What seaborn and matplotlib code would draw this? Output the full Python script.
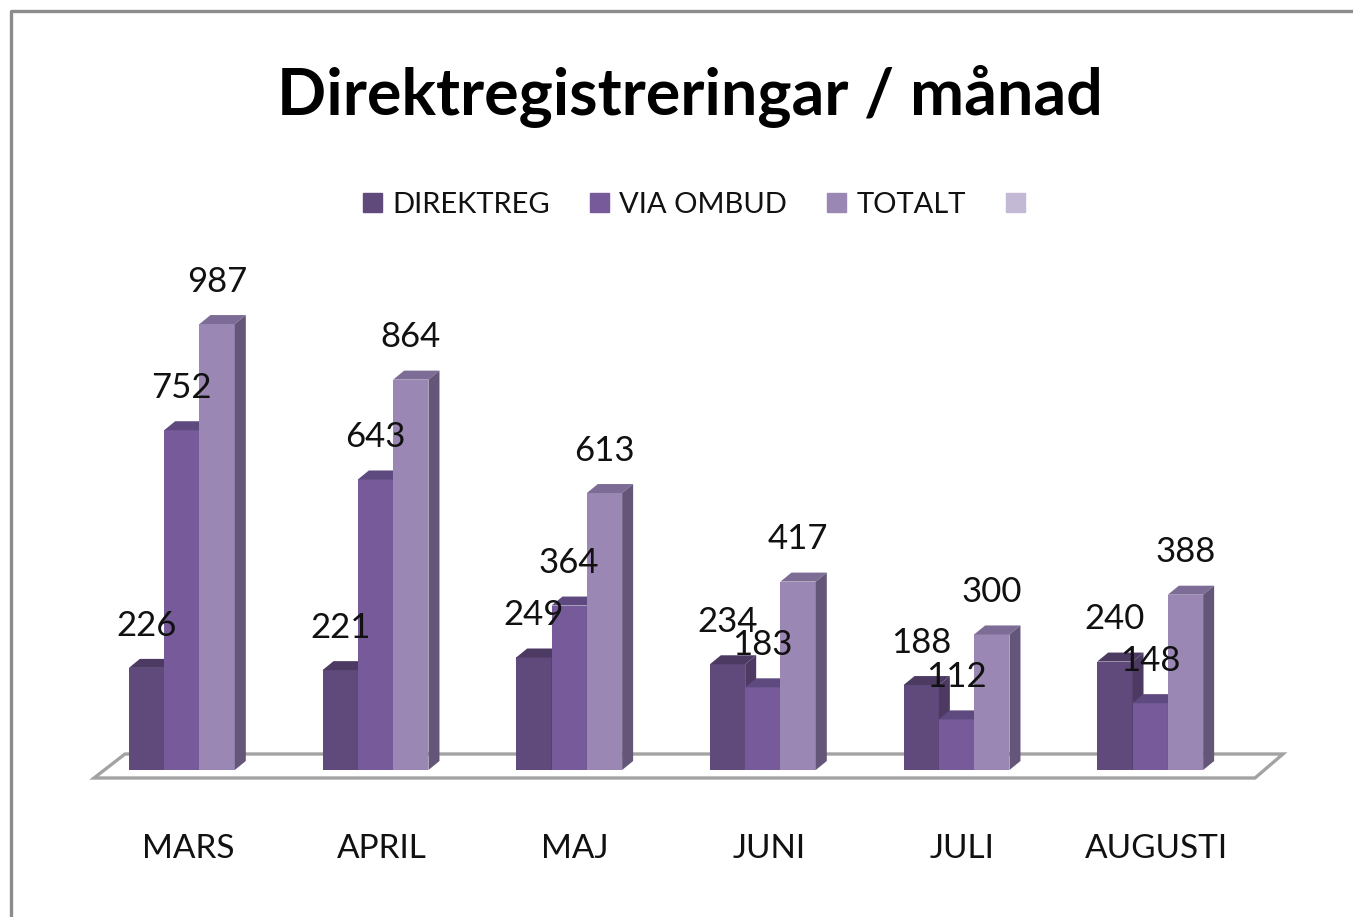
import pandas as pd
import seaborn as sns
import matplotlib.pyplot as plt
from matplotlib.patches import Patch, Polygon
from matplotlib.lines import Line2D
from matplotlib.transforms import ScaledTranslation

months = ['MARS', 'APRIL', 'MAJ', 'JUNI', 'JULI', 'AUGUSTI']
direktreg = [226, 221, 249, 234, 188, 240]
via_ombud = [752, 643, 364, 183, 112, 148]
totalt = [987, 864, 613, 417, 300, 388]
series_names = ['DIREKTREG', 'VIA OMBUD', 'TOTALT']

front_colors = ['#604a7b', '#765a9a', '#9b87b3']
top_colors = ['#4c3a63', '#5f4a80', '#7d6c95']
side_colors = ['#4c3a63', '#5c4a78', '#635678']
legend_colors = front_colors + ['#c3b9d4']

W, H = 1353, 917
sns.set_theme(style='white')
plt.rcParams['font.family'] = ['Lato', 'DejaVu Sans']

df = pd.DataFrame({
    'month': months * 3,
    'value': direktreg + via_ombud + totalt,
    'series': [s for s in series_names for _ in months],
})

fig = plt.figure(figsize=(W / 100, H / 100), dpi=100, facecolor='white')

# axes box in pixels: bars stand on y=770, first group centred on x=182
left, right, bottom, top = 85, 1247, 770, 273
ax = fig.add_axes([left / W, 1 - bottom / H, (right - left) / W, (bottom - top) / H])
ax.patch.set_alpha(0)

sns.barplot(data=df, x='month', y='value', hue='series', order=months,
            hue_order=series_names, palette=front_colors, width=0.547, gap=0,
            saturation=1, legend=False, ax=ax, zorder=3)
ax.set_ylim(0, 1100)
ax.set_xlim(-0.5, 5.5)

# 3D depth of the bars
px_x = 1 / ((right - left) / 6)
px_y = 1100 / (bottom - top)
dx, dy = 11 * px_x, 9 * px_y
for i, cont in enumerate(ax.containers):
    for bar in cont:
        x0, w, h = bar.get_x(), bar.get_width(), bar.get_height()
        bar.set_zorder(3 + i)
        bar.set_edgecolor('none')
        ax.add_patch(Polygon([(x0, h), (x0 + dx, h + dy), (x0 + w + dx, h + dy), (x0 + w, h)],
                             fc=top_colors[i], ec='none', zorder=3 + i))
        ax.add_patch(Polygon([(x0 + w, 0), (x0 + w + dx, dy), (x0 + w + dx, h + dy), (x0 + w, h)],
                             fc=side_colors[i], ec='none', zorder=3 + i))
    ax.bar_label(cont, padding=19, fontsize=25, color='#111111', zorder=20)

for t in ax.texts:
    t.set_zorder(20)

ax.set_xlabel('')
ax.set_ylabel('')
ax.set_yticks([])
ax.set_xticks(range(6), labels=months)
ax.tick_params(axis='x', length=0, pad=46, labelsize=24, labelcolor='#111111')
sns.despine(ax=ax, left=True, bottom=True)

# month names sit a little right of the group centres
nudge = ScaledTranslation(6 / 100, 0, fig.dpi_scale_trans)
for t in ax.get_xticklabels():
    t.set_transform(t.get_transform() + nudge)


# floor and outer frame are drawn in pixel terms on the figure
def px(points):
    return [(x / W, 1 - y / H) for x, y in points]


floor = Polygon(px([(94, 778), (1255, 778), (1283, 754), (125, 754)]), closed=True,
                fc='white', ec='#a3a3a3', lw=2.4, transform=fig.transFigure, zorder=1)
ax.add_patch(floor)
floor.set_clip_on(False)

frame_x, frame_y = zip(*px([(11, H), (11, 11), (W, 11)]))
fig.add_artist(Line2D(frame_x, frame_y, color='#8c8c8c', lw=2.4))

fig.text(690 / W, 1 - 96 / H, 'Direktregistreringar / månad', ha='center', va='center',
         fontsize=46.5, fontweight='bold', color='black')

handles = [Patch(color=c) for c in legend_colors]
labels = series_names + ['']
fig.legend(handles, labels, ncol=4, loc='center', bbox_to_anchor=(699 / W, 1 - 205 / H),
           frameon=False, fontsize=21, handlelength=0.65, handleheight=0.65,
           handletextpad=0.35, columnspacing=1.37, labelcolor='#111111')

fig.savefig('out.png', dpi=100)
